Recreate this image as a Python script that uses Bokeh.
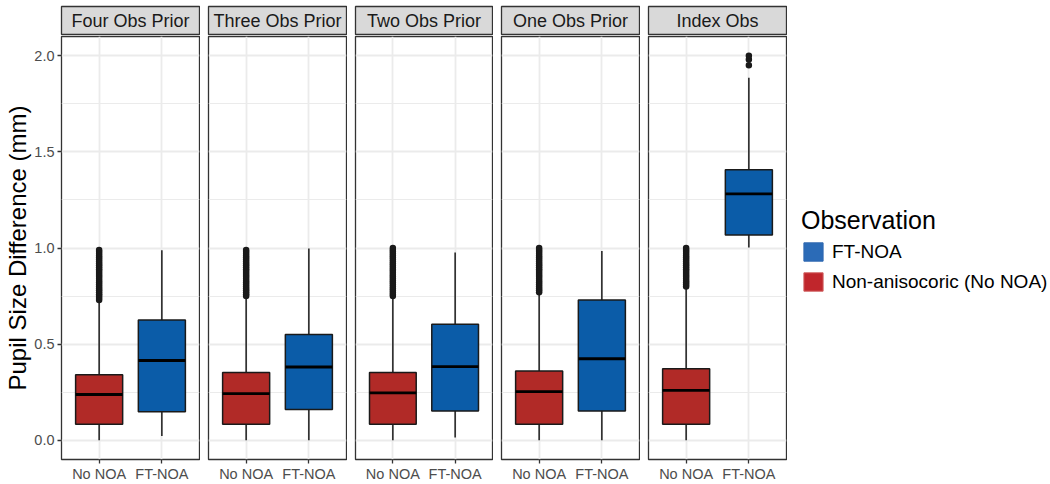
from bokeh.plotting import figure
from bokeh.models import Range1d, FactorRange, FixedTicker, Legend, LegendItem, ColumnDataSource
from bokeh.layouts import row, column
from bokeh.transform import dodge
from bokeh.core.properties import value
from bokeh.embed import file_html
from bokeh.resources import INLINE

# ---------------- data ----------------
panels = ["Four Obs Prior", "Three Obs Prior", "Two Obs Prior", "One Obs Prior", "Index Obs"]
groups = ["No NOA", "FT-NOA"]
legend_title = "Observation"
legend_labels = ["FT-NOA", "Non-anisocoric (No NOA)"]
y_title = "Pupil Size Difference (mm)"
y_ticks = [0.0, 0.5, 1.0, 1.5, 2.0]
y_minor = [0.25, 0.75, 1.25, 1.75]
y_tick_labels = ["0.0", "0.5", "1.0", "1.5", "2.0"]

# No NOA box statistics, one value per panel
no_lo = [0.0, 0.0, 0.0, 0.0, 0.0]
no_q1 = [0.083, 0.083, 0.083, 0.083, 0.083]
no_med = [0.238, 0.243, 0.247, 0.253, 0.260]
no_q3 = [0.341, 0.352, 0.352, 0.360, 0.372]
no_hi = [0.72, 0.74, 0.74, 0.76, 0.79]

# FT-NOA box statistics, one value per panel
ft_lo = [0.022, 0.0, 0.014, 0.0, 1.002]
ft_q1 = [0.148, 0.160, 0.152, 0.152, 1.067]
ft_med = [0.415, 0.381, 0.383, 0.424, 1.281]
ft_q3 = [0.626, 0.550, 0.604, 0.729, 1.407]
ft_hi = [0.988, 0.997, 0.976, 0.985, 1.885]

# outliers
no_out = [
    [0.73, 0.74, 0.75, 0.76, 0.77, 0.78, 0.79, 0.80, 0.81, 0.82, 0.83, 0.84, 0.85, 0.86,
     0.87, 0.88, 0.89, 0.90, 0.91, 0.92, 0.93, 0.94, 0.95, 0.96, 0.97, 0.98, 0.99],
    [0.75, 0.76, 0.77, 0.78, 0.79, 0.80, 0.81, 0.82, 0.83, 0.84, 0.85, 0.86, 0.87, 0.88,
     0.89, 0.90, 0.91, 0.92, 0.93, 0.94, 0.95, 0.96, 0.97, 0.98, 0.99],
    [0.75, 0.76, 0.77, 0.78, 0.79, 0.80, 0.81, 0.82, 0.83, 0.84, 0.85, 0.86, 0.87, 0.88,
     0.89, 0.90, 0.91, 0.92, 0.93, 0.94, 0.95, 0.96, 0.97, 0.98, 0.99, 1.00],
    [0.77, 0.78, 0.79, 0.80, 0.81, 0.82, 0.83, 0.84, 0.85, 0.86, 0.87, 0.88, 0.89, 0.90,
     0.91, 0.92, 0.93, 0.94, 0.95, 0.96, 0.97, 0.98, 0.99, 1.00],
    [0.80, 0.81, 0.82, 0.83, 0.84, 0.85, 0.86, 0.87, 0.88, 0.89, 0.90, 0.91, 0.92, 0.93,
     0.94, 0.95, 0.96, 0.97, 0.98, 0.99, 1.00],
]
ft_out = [[], [], [], [], [1.95, 1.98, 2.00]]

# ---------------- style ----------------
FONT = "Liberation Sans"
RED = "#B12A27"
BLUE = "#0B5CA8"
KEY_RED = "#C0262C"
KEY_BLUE = "#2B6BB7"
GRID = "#EBEBEB"
DARK = "#333333"

STRIP_H = 35
PANEL_H = 449
FRAME_WS = [138, 138, 137, 138, 138]
LEFTS = [61, 8, 8, 8, 8]
LEG_W = 263


def make_strip(title, left, fw):
    s = figure(width=left + fw + 1, height=STRIP_H,
               x_range=Range1d(0, 1), y_range=Range1d(0, 1),
               x_axis_type=None, y_axis_type=None,
               toolbar_location=None, output_backend="svg",
               min_border_left=left, min_border_right=1,
               min_border_top=6, min_border_bottom=0)
    s.background_fill_color = "#D9D9D9"
    s.border_fill_color = "white"
    s.outline_line_color = DARK
    s.outline_line_width = 1.3
    s.text(x=[0.5], y=[0.5], text=[title], text_align="center",
           text_baseline="middle", text_font=value(FONT),
           text_font_size="18px", text_color="#1A1A1A")
    return s


def make_panel(i, left, fw, show_y):
    p = figure(width=left + fw + 1, height=PANEL_H,
               x_range=FactorRange(factors=groups, range_padding=0.1,
                                   range_padding_units="absolute"),
               y_range=Range1d(-0.1, 2.1),
               toolbar_location=None, output_backend="svg",
               min_border_left=left, min_border_right=1,
               min_border_top=1, min_border_bottom=25)
    p.background_fill_color = "white"
    p.border_fill_color = "white"
    p.outline_line_color = DARK
    p.outline_line_width = 1.3

    ticker = FixedTicker(ticks=y_ticks, minor_ticks=y_minor)
    p.yaxis.ticker = ticker
    p.ygrid.ticker = ticker
    p.yaxis.major_label_overrides = dict(zip(y_ticks, y_tick_labels))
    p.ygrid.grid_line_color = GRID
    p.ygrid.grid_line_width = 1.8
    p.ygrid.minor_grid_line_color = GRID
    p.ygrid.minor_grid_line_width = 1
    p.xgrid.grid_line_color = GRID
    p.xgrid.grid_line_width = 1.8

    for ax in (p.xaxis[0], p.yaxis[0]):
        ax.axis_line_color = None
        ax.major_tick_line_color = DARK
        ax.major_tick_line_width = 1.3
        ax.major_tick_out = 4
        ax.major_tick_in = 0
        ax.minor_tick_line_color = None
        ax.major_label_text_font = FONT
        ax.major_label_text_font_size = "14.5px"
        ax.major_label_text_color = "#4D4D4D"
        ax.major_label_standoff = 2
    p.yaxis.major_label_standoff = 3

    if show_y:
        p.yaxis.axis_label = y_title
        p.yaxis.axis_label_text_font = FONT
        p.yaxis.axis_label_text_font_size = "24px"
        p.yaxis.axis_label_text_font_style = "normal"
        p.yaxis.axis_label_text_color = "#000000"
        p.yaxis.axis_label_standoff = 0
    else:
        p.yaxis.visible = False

    src = ColumnDataSource(dict(
        g=groups,
        lo=[no_lo[i], ft_lo[i]],
        q1=[no_q1[i], ft_q1[i]],
        med=[no_med[i], ft_med[i]],
        q3=[no_q3[i], ft_q3[i]],
        hi=[no_hi[i], ft_hi[i]],
        fill=[RED, BLUE],
    ))
    out_src = ColumnDataSource(dict(
        g=[groups[0]] * len(no_out[i]) + [groups[1]] * len(ft_out[i]),
        y=no_out[i] + ft_out[i],
    ))

    p.segment(x0="g", y0="lo", x1="g", y1="q1", source=src,
              line_color="#1A1A1A", line_width=1.5)
    p.segment(x0="g", y0="q3", x1="g", y1="hi", source=src,
              line_color="#1A1A1A", line_width=1.5)
    p.scatter(x="g", y="y", source=out_src, size=6.5,
              fill_color="#1A1A1A", line_color=None)
    p.vbar(x="g", bottom="q1", top="q3", width=0.75, source=src,
           fill_color="fill", line_color="#1A1A1A", line_width=1.5)
    p.segment(x0=dodge("g", -0.375, range=p.x_range), y0="med",
              x1=dodge("g", 0.375, range=p.x_range), y1="med",
              source=src, line_color="#000000", line_width=2.8)
    return p


cols = []
for i, name in enumerate(panels):
    cols.append(column(make_strip(name, LEFTS[i], FRAME_WS[i]),
                       make_panel(i, LEFTS[i], FRAME_WS[i], i == 0)))

# legend figure
lg = figure(width=LEG_W, height=STRIP_H + PANEL_H,
            x_range=Range1d(0, 1), y_range=Range1d(0, 1),
            x_axis_type=None, y_axis_type=None,
            toolbar_location=None, output_backend="svg", min_border=0)
lg.outline_line_color = None
lg.background_fill_color = "white"
r_ft = lg.rect(x=[10], y=[10], width=1, height=1, fill_color=KEY_BLUE,
               line_color="#2F68B0", line_width=1)
r_no = lg.rect(x=[10], y=[10], width=1, height=1, fill_color=KEY_RED,
               line_color="#D06060", line_width=1)
leg = Legend(
    items=[LegendItem(label=legend_labels[0], renderers=[r_ft]),
           LegendItem(label=legend_labels[1], renderers=[r_no])],
    title=legend_title, location=(14, 191), padding=0, margin=0,
    spacing=7, glyph_width=24, glyph_height=23, label_standoff=7,
    title_standoff=5, border_line_color=None, background_fill_alpha=0,
    label_text_font=FONT, label_text_font_size="19px",
    label_text_color="#000000", title_text_font=FONT,
    title_text_font_size="25px", title_text_font_style="normal",
    title_text_color="#000000")
lg.add_layout(leg, "center")

layout = row(*cols, lg)
open("out.html", "w").write(file_html(layout, INLINE))
